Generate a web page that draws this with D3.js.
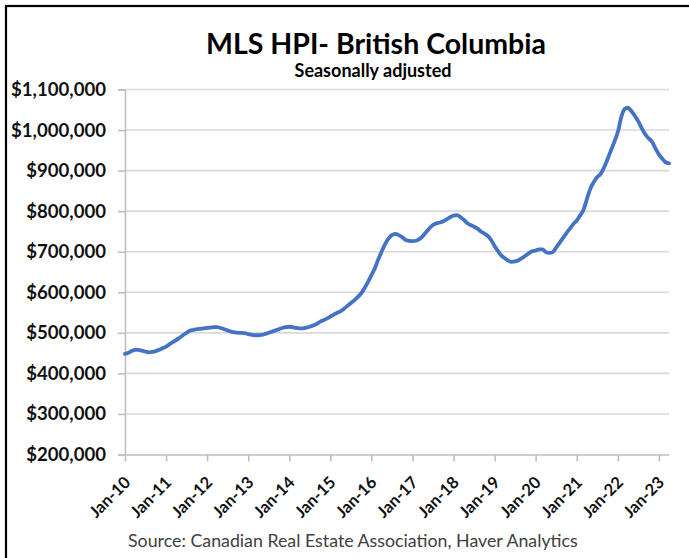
<!DOCTYPE html>
<html>
<head>
<meta charset="utf-8">
<script src="https://cdn.jsdelivr.net/npm/d3@7"></script>
<style>
  body { margin: 0; background: #fff; }
  svg { display: block; }
  text { font-family: Lato, "Open Sans", sans-serif; }
</style>
</head>
<body>
<svg id="chart" width="689" height="558"></svg>
<script>
// MLS Home Price Index, British Columbia, seasonally adjusted (thousands of dollars), monthly
const hpi2010 = [448, 451, 455, 458, 458, 456, 454, 452, 453, 455, 458, 462];
const hpi2011 = [466, 472, 477, 482, 488, 494, 500, 505, 507, 509, 510, 511];
const hpi2012 = [512, 513, 514, 514, 512, 509, 506, 503, 501, 500, 500, 499];
const hpi2013 = [497, 495, 494, 494, 495, 497, 500, 503, 506, 509, 512, 514];
const hpi2014 = [515, 514, 512, 511, 511, 513, 515, 518, 522, 527, 531, 535];
const hpi2015 = [540, 545, 549, 553, 559, 566, 573, 580, 588, 597, 610, 625];
const hpi2016 = [642, 659, 680, 700, 718, 732, 741, 744, 741, 736, 729, 727];
const hpi2017 = [726, 727, 731, 738, 748, 758, 766, 770, 772, 775, 780, 785];
const hpi2018 = [789, 790, 786, 779, 771, 766, 762, 757, 750, 745, 739, 729];
const hpi2019 = [714, 701, 691, 684, 678, 675, 676, 679, 684, 690, 696, 701];
const hpi2020 = [703, 706, 706, 699, 697, 699, 710, 722, 734, 746, 757, 768];
const hpi2021 = [777, 790, 803, 830, 855, 872, 884, 892, 908, 928, 950, 971];
const hpi2022 = [995, 1032, 1052, 1055, 1047, 1035, 1022, 1005, 990, 980, 971, 955];
const hpi2023 = [940, 929, 921, 918];

const hpiValues = [].concat(hpi2010, hpi2011, hpi2012, hpi2013, hpi2014, hpi2015, hpi2016,
  hpi2017, hpi2018, hpi2019, hpi2020, hpi2021, hpi2022, hpi2023);

const firstMonth = new Date(2010, 0, 1);
const months = hpiValues.map((_, i) => d3.timeMonth.offset(firstMonth, i));

const yTicks = [200000, 300000, 400000, 500000, 600000, 700000, 800000, 900000, 1000000, 1100000];
const xTickLabels = ["Jan-10", "Jan-11", "Jan-12", "Jan-13", "Jan-14", "Jan-15", "Jan-16",
  "Jan-17", "Jan-18", "Jan-19", "Jan-20", "Jan-21", "Jan-22", "Jan-23"];
const xTickDates = xTickLabels.map(s => d3.timeParse("%b-%y")(s));

const titleText = "MLS HPI- British Columbia";
const subtitleText = "Seasonally adjusted";
const sourceText = "Source: Canadian Real Estate Association, Haver Analytics";

const svg = d3.select("#chart");

// outer frame
svg.append("rect")
  .attr("x", 6).attr("y", 6)
  .attr("width", 720).attr("height", 600)
  .attr("fill", "#fff")
  .attr("stroke", "#000").attr("stroke-width", 2.2);

const x = d3.scaleTime()
  .domain([months[0], months[months.length - 1]])
  .range([125, 669]);

const y = d3.scaleLinear()
  .domain([200000, 1100000])
  .range([454.5, 89.5]);

// horizontal gridlines
svg.append("g")
  .selectAll("line")
  .data(yTicks.slice(1))
  .join("line")
  .attr("x1", 125).attr("x2", 669)
  .attr("y1", d => y(d)).attr("y2", d => y(d))
  .attr("stroke", "#d9d9d9").attr("stroke-width", 1.6);

// y axis
const yAxis = svg.append("g")
  .attr("transform", "translate(125,0)")
  .call(d3.axisLeft(y)
    .tickValues(yTicks)
    .tickSize(7)
    .tickPadding(12)
    .tickFormat(d => "$" + d3.format(",")(d)));
yAxis.select(".domain").attr("stroke", "#bfbfbf").attr("stroke-width", 1.6);
yAxis.selectAll(".tick line").attr("stroke", "#bfbfbf").attr("stroke-width", 1.6);
yAxis.selectAll(".tick text")
  .attr("fill", "#111")
  .style("font-size", "18.6px")
  .style("font-weight", "700")
  .style("font-family", "Lato, sans-serif");

// x axis
const xAxis = svg.append("g")
  .attr("transform", "translate(0,454.5)")
  .call(d3.axisBottom(x)
    .tickValues(xTickDates)
    .tickSize(7)
    .tickSizeOuter(0)
    .tickFormat((d, i) => xTickLabels[i]));
xAxis.select(".domain").attr("stroke", "#bfbfbf").attr("stroke-width", 1.6);
xAxis.selectAll(".tick line").attr("stroke", "#bfbfbf").attr("stroke-width", 1.6);
xAxis.selectAll(".tick text")
  .attr("x", 0).attr("y", 0).attr("dy", 0)
  .attr("transform", "translate(6,29) rotate(-45)")
  .attr("text-anchor", "end")
  .attr("fill", "#111")
  .style("font-size", "16.5px")
  .style("font-weight", "700")
  .style("font-family", "Lato, sans-serif");

// HPI line
const line = d3.line()
  .x((d, i) => x(months[i]))
  .y(d => y(d * 1000))
  .curve(d3.curveMonotoneX);

svg.append("path")
  .datum(hpiValues)
  .attr("d", line)
  .attr("fill", "none")
  .attr("stroke", "#4472c4")
  .attr("stroke-width", 3.8)
  .attr("stroke-linejoin", "round")
  .attr("stroke-linecap", "round");

// titles
svg.append("text")
  .attr("x", 376).attr("y", 54)
  .attr("text-anchor", "middle")
  .style("font-size", "28.5px").style("font-weight", "700")
  .attr("fill", "#000")
  .text(titleText);

svg.append("text")
  .attr("x", 373).attr("y", 77)
  .attr("text-anchor", "middle")
  .style("font-size", "18px").style("font-weight", "700")
  .attr("fill", "#000")
  .text(subtitleText);

svg.append("text")
  .attr("x", 128).attr("y", 547)
  .style("font-size", "17.8px")
  .attr("fill", "#404040")
  .text(sourceText);
</script>
</body>
</html>
